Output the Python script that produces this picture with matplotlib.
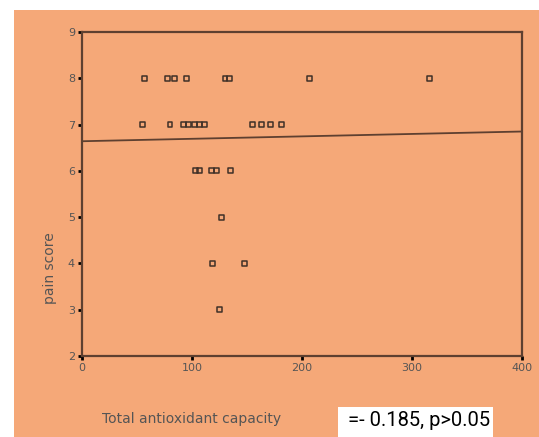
import numpy as np
import matplotlib.pyplot as plt
from matplotlib.patches import Rectangle

# datos
tac_8 = [57, 78, 84, 95, 130, 134, 207, 316]
tac_7 = [55, 80, 92, 97, 102, 107, 111, 155, 163, 171, 181]
tac_6 = [103, 107, 118, 122, 135]
tac_5 = [127]
tac_4 = [119, 148]
tac_3 = [125]
scores = [8, 7, 6, 5, 4, 3]

# recta de regresion (extremos leidos)
fit_x = [0, 400]
fit_y = [6.64, 6.85]

x_ticks = [0, 100, 200, 300, 400]
y_ticks = [2, 3, 4, 5, 6, 7, 8, 9]

naranja = "#F5A878"
borde = "#5E4030"

fig = plt.figure(figsize=(5.39, 4.37), dpi=100, facecolor="white")
fig.patches.append(Rectangle((14/539, 0), 1 - 14/539, 1 - 10/437,
                             transform=fig.transFigure, facecolor=naranja,
                             edgecolor="none", zorder=-2))

ax = fig.add_axes([82/539, 1 - 356/437, (522-82)/539, (356-32)/437])
ax.set_facecolor(naranja)

for xs, s in zip([tac_8, tac_7, tac_6, tac_5, tac_4, tac_3], scores):
    ax.scatter(xs, [s]*len(xs), marker="s", s=12, facecolors="none",
               edgecolors="#3f3028", linewidths=1.1, zorder=3)

ax.plot(fit_x, fit_y, color=borde, lw=1.3)

ax.set_xlim(0, 400)
ax.set_ylim(2, 9)
ax.set_xticks(x_ticks)
ax.set_yticks(y_ticks)
for sp in ax.spines.values():
    sp.set_color(borde)
    sp.set_linewidth(1.6)
ax.tick_params(length=3, width=2, color="black", labelsize=8,
               labelcolor="#555555", pad=2)

fig.text(50/539, 1 - 268/437, "pain score", rotation=90, ha="center",
         va="center", fontsize=10, color="#555555")
fig.text(192/539, 1 - 419/437, "Total antioxidant capacity", ha="center",
         va="center", fontsize=10, color="#555555")

fig.patches.append(Rectangle((338/539, 0), (493-338)/539, (437-407)/437,
                             transform=fig.transFigure, facecolor="white",
                             edgecolor="none", zorder=-1))
fig.text(348/539, 1 - 421/437, "=- 0.185, p>0.05", ha="left", va="center",
         fontsize=14.5, color="black", family="Roboto")

plt.savefig("out.png", dpi=100)
